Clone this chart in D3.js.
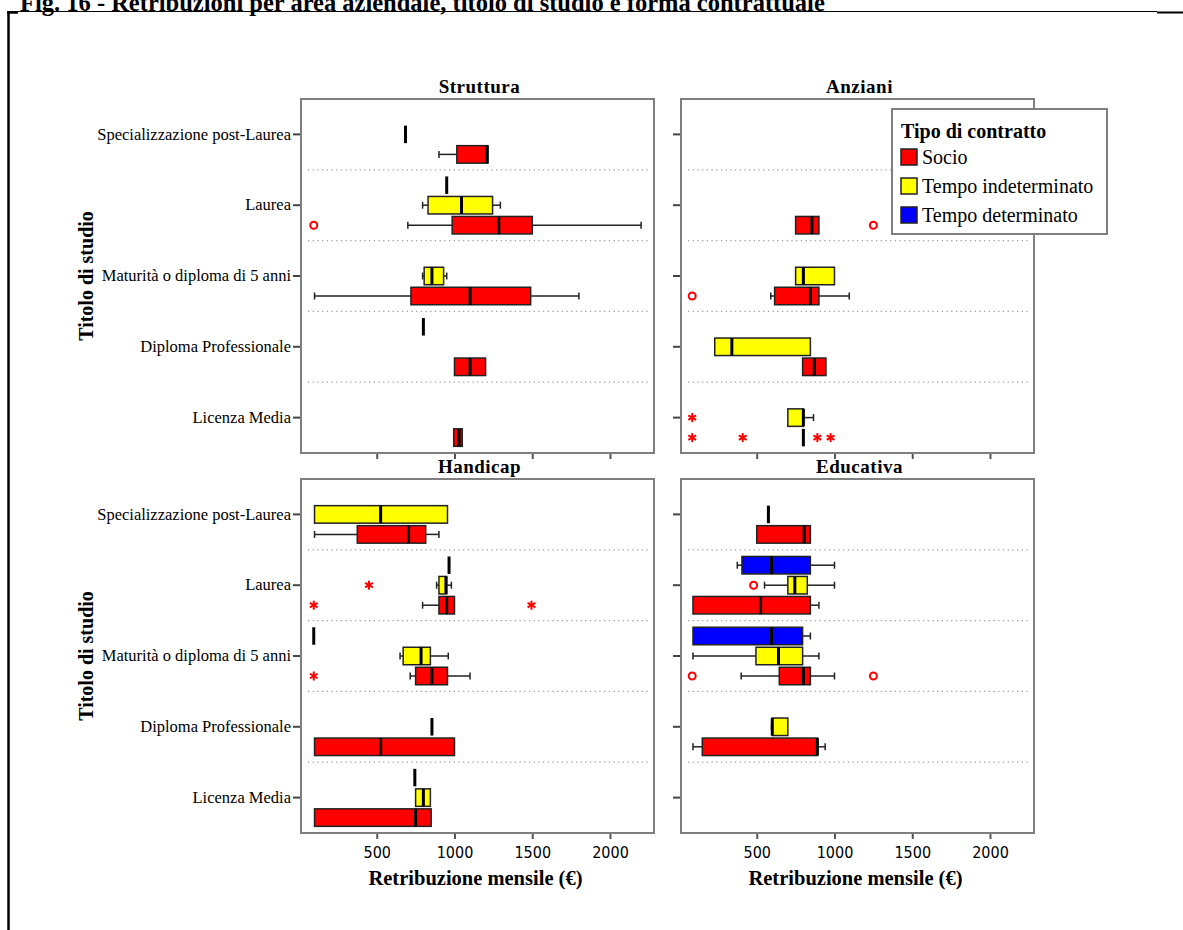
<!DOCTYPE html>
<html>
<head>
<meta charset="utf-8">
<script src="https://cdn.jsdelivr.net/npm/d3@7"></script>
<style>
body { margin: 0; background: #fff; }
svg text { font-family: "Liberation Serif", "Times New Roman", serif; fill: #000; }
</style>
</head>
<body>
<div id="chart"></div>
<script>
const titoli = ["Specializzazione post-Laurea", "Laurea", "Maturità o diploma di 5 anni", "Diploma Professionale", "Licenza Media"];
const contratti = ["Socio", "Tempo indeterminato", "Tempo determinato"];
const aree = ["Struttura", "Anziani", "Handicap", "Educativa"];
const xTicks = [500, 1000, 1500, 2000];

const [SPEC, LAU, MAT, DIP, LIC] = titoli;
const [SOC, TI, TD] = contratti;

// [titolo, contratto, min, q1, mediana, q3, max]
const struttura = [
  [SPEC, TI, 685, 685, 685, 685, 685],
  [SPEC, SOC, 900, 1015, 1210, 1215, 1215],
  [LAU, TD, 950, 950, 950, 950, 950],
  [LAU, TI, 795, 830, 1045, 1245, 1295],
  [LAU, SOC, 700, 985, 1285, 1500, 2200],
  [MAT, TI, 795, 805, 855, 930, 950],
  [MAT, SOC, 100, 720, 1100, 1490, 1800],
  [DIP, TD, 800, 800, 800, 800, 800],
  [DIP, SOC, 1000, 1000, 1100, 1200, 1200],
  [LIC, SOC, 995, 995, 1030, 1050, 1050]
];
const anziani = [
  [LAU, SOC, 750, 750, 855, 900, 900],
  [MAT, TI, 750, 750, 800, 1000, 1000],
  [MAT, SOC, 590, 615, 845, 900, 1095],
  [DIP, TI, 230, 230, 340, 845, 845],
  [DIP, SOC, 795, 795, 870, 945, 945],
  [LIC, TI, 700, 700, 800, 800, 865],
  [LIC, SOC, 800, 800, 800, 800, 800]
];
const handicap = [
  [SPEC, TI, 100, 100, 525, 955, 955],
  [SPEC, SOC, 100, 375, 705, 815, 900],
  [LAU, TD, 965, 965, 965, 965, 965],
  [LAU, TI, 885, 900, 945, 950, 980],
  [LAU, SOC, 795, 900, 950, 1000, 1000],
  [MAT, TD, 95, 95, 95, 95, 95],
  [MAT, TI, 650, 670, 785, 845, 960],
  [MAT, SOC, 715, 750, 855, 955, 1100],
  [DIP, TI, 855, 855, 855, 855, 855],
  [DIP, SOC, 100, 100, 525, 1000, 1000],
  [LIC, TD, 745, 745, 745, 745, 745],
  [LIC, TI, 750, 750, 800, 845, 845],
  [LIC, SOC, 100, 100, 750, 850, 850]
];
const educativa = [
  [SPEC, TI, 575, 575, 575, 575, 575],
  [SPEC, SOC, 500, 500, 805, 845, 845],
  [LAU, TD, 375, 405, 595, 845, 1000],
  [LAU, TI, 550, 700, 745, 825, 1000],
  [LAU, SOC, 90, 90, 525, 845, 900],
  [MAT, TD, 90, 90, 595, 795, 845],
  [MAT, TI, 90, 495, 640, 795, 900],
  [MAT, SOC, 400, 645, 800, 845, 1000],
  [DIP, TI, 595, 600, 600, 700, 700],
  [DIP, SOC, 90, 150, 890, 890, 940]
];

// [titolo, contratto, valore, tipo]  o = anomalo, * = estremo
const strutturaOut = [
  [LAU, SOC, 95, "o"]
];
const anzianiOut = [
  [LAU, SOC, 1250, "o"],
  [MAT, SOC, 85, "o"],
  [LIC, TI, 85, "*"],
  [LIC, SOC, 85, "*"],
  [LIC, SOC, 410, "*"],
  [LIC, SOC, 890, "*"],
  [LIC, SOC, 975, "*"]
];
const handicapOut = [
  [LAU, TI, 450, "*"],
  [LAU, SOC, 95, "*"],
  [LAU, SOC, 1495, "*"],
  [MAT, SOC, 95, "*"]
];
const educativaOut = [
  [LAU, TI, 480, "o"],
  [MAT, SOC, 85, "o"],
  [MAT, SOC, 1250, "o"]
];

const boxes = [struttura, anziani, handicap, educativa];
const outliers = [strutturaOut, anzianiOut, handicapOut, educativaOut];

const width = 1183, height = 930;
const panelW = 353, panelH = 354;
const panels = [
  {x: 301, y: 99}, {x: 681, y: 99},
  {x: 301, y: 479}, {x: 681, y: 479}
];
const boxH = 17.5;

const color = d3.scaleOrdinal()
  .domain(contratti)
  .range(["#ff0000", "#ffff00", "#0000ff"]);

const x = d3.scaleLinear().domain([13, 2283]).range([0, panelW]);
const y = d3.scaleBand().domain(titoli).range([0, panelH]);
const slot = d3.scalePoint().domain([TD, TI, SOC]).range([-20, 20]);

const svg = d3.select("#chart")
  .append("svg")
  .attr("width", width)
  .attr("height", height);

// page title and frame
svg.append("text")
  .attr("x", 20)
  .attr("y", 11)
  .style("font-size", "24.5px")
  .style("font-weight", "bold")
  .text("Fig. 16 - Retribuzioni per area aziendale, titolo di studio e forma contrattuale");

svg.append("line").attr("x1", 8).attr("x2", 1157).attr("y1", 11.5).attr("y2", 11.5)
  .attr("stroke", "#000").attr("stroke-width", 1);
svg.append("line").attr("x1", 1157).attr("x2", width).attr("y1", 12.5).attr("y2", 12.5)
  .attr("stroke", "#000").attr("stroke-width", 2);
svg.append("line").attr("x1", 7).attr("x2", 18).attr("y1", 12.5).attr("y2", 12.5)
  .attr("stroke", "#000").attr("stroke-width", 2.5);
svg.append("line").attr("x1", 8.5).attr("x2", 8.5).attr("y1", 11).attr("y2", height)
  .attr("stroke", "#000").attr("stroke-width", 2.5);

function asterisk(g, cx, cy) {
  const r = 4.5;
  [90, 30, -30].forEach(a => {
    const dx = r * Math.cos(a * Math.PI / 180), dy = r * Math.sin(a * Math.PI / 180);
    g.append("line")
      .attr("x1", cx - dx).attr("x2", cx + dx)
      .attr("y1", cy - dy).attr("y2", cy + dy)
      .attr("stroke", "#ff0000").attr("stroke-width", 2);
  });
}

aree.forEach((area, i) => {
  const p = panels[i];
  const left = i % 2 === 0;
  const bottom = i >= 2;
  const g = svg.append("g").attr("transform", `translate(${p.x},${p.y})`);

  g.append("rect")
    .attr("width", panelW).attr("height", panelH)
    .attr("fill", "#fff").attr("stroke", "#7f7f7f").attr("stroke-width", 2);

  // dotted separators between groups
  g.selectAll("line.sep")
    .data(titoli.slice(1))
    .join("line")
    .attr("class", "sep")
    .attr("x1", 7).attr("x2", panelW - 3)
    .attr("y1", d => y(d)).attr("y2", d => y(d))
    .attr("stroke", "#999").attr("stroke-width", 1.2)
    .attr("stroke-dasharray", "1.2,3.5");

  // axes
  const xAxis = g.append("g")
    .attr("transform", `translate(0,${panelH})`)
    .call(d3.axisBottom(x).tickValues(xTicks).tickSize(6).tickPadding(8)
      .tickFormat(bottom ? d3.format("d") : () => ""));
  xAxis.select(".domain").remove();
  xAxis.selectAll(".tick line").attr("stroke", "#555").attr("stroke-width", 2).attr("y1", 1);
  xAxis.selectAll(".tick text")
    .style("font-family", "'Liberation Sans Narrow', 'DejaVu Sans Condensed', 'Arial Narrow', sans-serif")
    .style("font-stretch", "condensed")
    .style("font-size", "16px")
    .attr("fill", "#000");

  const yAxis = g.append("g")
    .call(d3.axisLeft(y).tickSize(7).tickPadding(3)
      .tickFormat(left ? d => d : () => ""));
  yAxis.select(".domain").remove();
  yAxis.selectAll(".tick line").attr("stroke", "#444").attr("stroke-width", 2).attr("x2", -1).attr("x1", -8);
  yAxis.selectAll(".tick text")
    .style("font-family", "'Liberation Serif', serif")
    .style("font-size", "16.5px")
    .attr("fill", "#000");

  // panel title
  g.append("text")
    .attr("x", panelW / 2 + 2)
    .attr("y", -6)
    .attr("text-anchor", "middle")
    .style("font-size", "19px")
    .style("font-weight", "bold")
    .style("letter-spacing", "0.5px")
    .text(area);

  if (left) {
    g.append("text")
      .attr("transform", `translate(${93 - p.x},${panelH / 2}) rotate(-90)`)
      .attr("text-anchor", "middle")
      .style("font-size", "20px")
      .style("font-weight", "bold")
      .text("Titolo di studio");
  }
  if (bottom) {
    g.append("text")
      .attr("x", panelW / 2 - 2)
      .attr("y", panelH + 52)
      .attr("text-anchor", "middle")
      .style("font-size", "20.5px")
      .style("font-weight", "bold")
      .text("Retribuzione mensile (€)");
  }

  // boxes
  g.selectAll("g.box")
    .data(boxes[i])
    .join("g")
    .attr("class", "box")
    .each(function (d) {
      const [tit, con, mn, q1, md, q3, mx] = d;
      const cy = y(tit) + y.bandwidth() / 2 + slot(con);
      const b = d3.select(this);
      if (mn === mx) {
        b.append("line")
          .attr("x1", x(md)).attr("x2", x(md))
          .attr("y1", cy - boxH / 2).attr("y2", cy + boxH / 2)
          .attr("stroke", "#000").attr("stroke-width", 3);
        return;
      }
      [[mn, q1], [q3, mx]].forEach(([a, c]) => {
        if (c - a <= 0) return;
        const end = a === mn ? mn : mx;
        b.append("line")
          .attr("x1", x(a)).attr("x2", x(c))
          .attr("y1", cy).attr("y2", cy)
          .attr("stroke", "#222").attr("stroke-width", 1.5);
        b.append("line")
          .attr("x1", x(end)).attr("x2", x(end))
          .attr("y1", cy - 3.5).attr("y2", cy + 3.5)
          .attr("stroke", "#222").attr("stroke-width", 1.5);
      });
      b.append("rect")
        .attr("x", x(q1)).attr("y", cy - boxH / 2)
        .attr("width", Math.max(x(q3) - x(q1), 0)).attr("height", boxH)
        .attr("fill", color(con))
        .attr("stroke", "#222").attr("stroke-width", 1.5);
      b.append("line")
        .attr("x1", x(md)).attr("x2", x(md))
        .attr("y1", cy - boxH / 2).attr("y2", cy + boxH / 2)
        .attr("stroke", "#000").attr("stroke-width", 3);
    });

  // outliers
  outliers[i].forEach(([tit, con, v, tipo]) => {
    const cy = y(tit) + y.bandwidth() / 2 + slot(con);
    if (tipo === "o") {
      g.append("circle")
        .attr("cx", x(v)).attr("cy", cy).attr("r", 3.5)
        .attr("fill", "#fff").attr("stroke", "#ff0000").attr("stroke-width", 2);
    } else {
      asterisk(g, x(v), cy);
    }
  });
});

// legend
const legend = svg.append("g").attr("transform", "translate(892,109)");
legend.append("rect")
  .attr("width", 215).attr("height", 125)
  .attr("fill", "#fff").attr("stroke", "#7f7f7f").attr("stroke-width", 2);
legend.append("text")
  .attr("x", 9).attr("y", 29)
  .style("font-size", "20px").style("font-weight", "bold")
  .text("Tipo di contratto");
const item = legend.selectAll("g.item")
  .data(contratti)
  .join("g")
  .attr("class", "item")
  .attr("transform", (d, k) => `translate(9,${40 + k * 29})`);
item.append("rect")
  .attr("width", 16).attr("height", 16)
  .attr("fill", d => color(d))
  .attr("stroke", "#222").attr("stroke-width", 1.5);
item.append("text")
  .attr("x", 21).attr("y", 15)
  .style("font-size", "20px")
  .text(d => d);
</script>
</body>
</html>
